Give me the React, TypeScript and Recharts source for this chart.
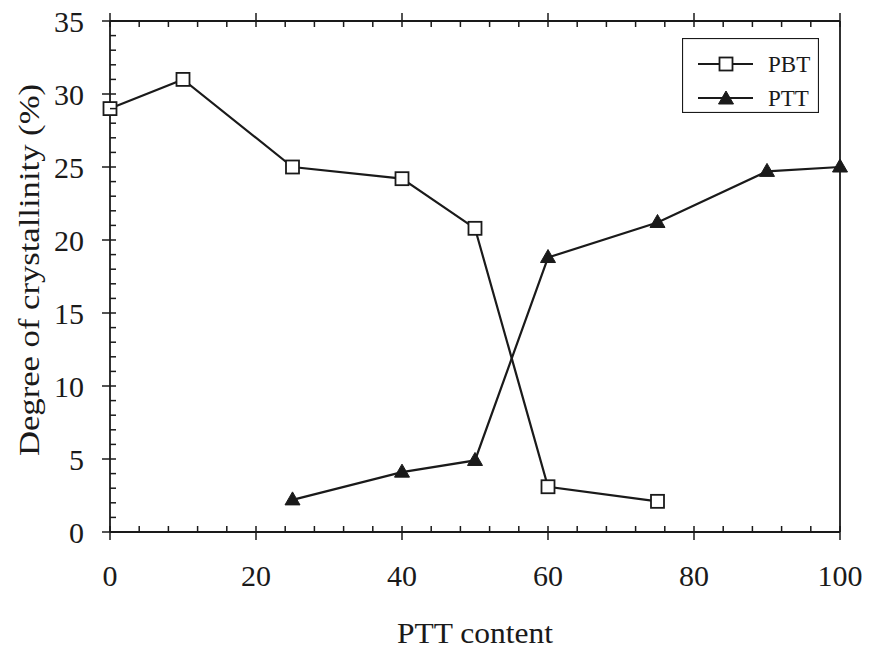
import React from 'react';
import { LineChart, Line, XAxis, YAxis } from 'recharts';

const ptt = [0, 10, 25, 40, 50, 60, 75, 90, 100];
const pbtValues = [29.0, 31.0, 25.0, 24.2, 20.8, 3.1, 2.1, null, null];
const pttValues = [null, null, 2.2, 4.1, 4.9, 18.8, 21.2, 24.7, 25.0];
const seriesNames = ['PBT', 'PTT'];

const xTicks = [0, 4, 8, 12, 16, 20, 24, 28, 32, 36, 40, 44, 48, 52, 56, 60, 64, 68, 72, 76, 80, 84, 88, 92, 96, 100];
const yTicks = [0, 1, 2, 3, 4, 5, 6, 7, 8, 9, 10, 11, 12, 13, 14, 15, 16, 17, 18, 19, 20, 21, 22, 23, 24, 25, 26, 27, 28, 29, 30, 31, 32, 33, 34, 35];

const data = ptt.map((x, i) => ({ x, pbt: pbtValues[i], ptt: pttValues[i] }));

const FONT = '"Liberation Serif", "Times New Roman", serif';
const INK = '#1a1a1a';

function Square({ cx, cy }: any) {
  if (cx == null || cy == null) return null;
  return <rect x={cx - 6.5} y={cy - 6.5} width={13} height={13} fill="#fff" stroke={INK} strokeWidth={1.8} />;
}

function Triangle({ cx, cy }: any) {
  if (cx == null || cy == null) return null;
  return <path d={`M${cx},${cy - 8} L${cx + 7.5},${cy + 5} L${cx - 7.5},${cy + 5} Z`} fill={INK} stroke={INK} />;
}

function BottomTick({ x, y, payload }: any) {
  const major = payload.value % 20 === 0;
  return (
    <g>
      <line x1={x} x2={x} y1={major ? y + 8 : y} y2={y - 6} stroke={INK} strokeWidth={1.5} />
      {major && (
        <text x={x} y={y + 54} textAnchor="middle" fontFamily={FONT} fontSize={30} fill={INK}>
          {payload.value}
        </text>
      )}
    </g>
  );
}

function TopTick({ x, y, payload }: any) {
  const major = payload.value % 20 === 0;
  return <line x1={x} x2={x} y1={major ? y - 8 : y} y2={y + 6} stroke={INK} strokeWidth={1.5} />;
}

function LeftTick({ x, y, payload }: any) {
  const major = payload.value % 5 === 0;
  return (
    <g>
      <line x1={major ? x - 8 : x} x2={x + 6} y1={y} y2={y} stroke={INK} strokeWidth={1.5} />
      {major && (
        <text x={x - 26} y={y} dy="0.36em" textAnchor="end" fontFamily={FONT} fontSize={30} fill={INK}>
          {payload.value}
        </text>
      )}
    </g>
  );
}

function RightTick({ x, y, payload }: any) {
  const major = payload.value % 5 === 0;
  return <line x1={major ? x + 8 : x} x2={x - 6} y1={y} y2={y} stroke={INK} strokeWidth={1.5} />;
}

function LegendBox() {
  return (
    <svg width={137} height={75} style={{ display: 'block' }}>
      <rect x={0.5} y={0.5} width={136} height={74} fill="#fff" stroke={INK} strokeWidth={1.2} />
      <line x1={16} x2={71} y1={26} y2={26} stroke={INK} strokeWidth={2.2} />
      <Square cx={44} cy={26} />
      <text x={86} y={26} dy="0.35em" fontFamily={FONT} fontSize={23} fill={INK}>{seriesNames[0]}</text>
      <line x1={16} x2={71} y1={60} y2={60} stroke={INK} strokeWidth={2.2} />
      <Triangle cx={44} cy={61} />
      <text x={86} y={60} dy="0.35em" fontFamily={FONT} fontSize={23} fill={INK}>{seriesNames[1]}</text>
    </svg>
  );
}

const axisLine = { stroke: INK, strokeWidth: 1.8 };

export default function App() {
  return (
    <div style={{ position: 'absolute', left: 0, top: 0, width: 873, height: 653, background: '#fff' }}>
      <LineChart width={873} height={653} data={data} margin={{ top: 20, right: 32, bottom: 120, left: 109 }}>
        <XAxis
          dataKey="x"
          type="number"
          domain={[0, 100]}
          ticks={xTicks}
          interval={0}
          height={1}
          tickSize={0}
          tickMargin={0}
          tickLine={false}
          tick={<BottomTick />}
          axisLine={axisLine}
        />
        <XAxis
          xAxisId="top"
          orientation="top"
          dataKey="x"
          type="number"
          domain={[0, 100]}
          ticks={xTicks}
          interval={0}
          height={1}
          tickSize={0}
          tickMargin={0}
          tickLine={false}
          tick={<TopTick />}
          axisLine={axisLine}
        />
        <YAxis
          type="number"
          domain={[0, 35]}
          ticks={yTicks}
          interval={0}
          width={1}
          tickSize={0}
          tickMargin={0}
          tickLine={false}
          tick={<LeftTick />}
          axisLine={axisLine}
        />
        <YAxis
          yAxisId="right"
          orientation="right"
          type="number"
          domain={[0, 35]}
          ticks={yTicks}
          interval={0}
          width={1}
          tickSize={0}
          tickMargin={0}
          tickLine={false}
          tick={<RightTick />}
          axisLine={axisLine}
        />
        <Line
          type="linear"
          dataKey="pbt"
          name={seriesNames[0]}
          stroke={INK}
          strokeWidth={2.2}
          dot={<Square />}
          activeDot={false}
          isAnimationActive={false}
        />
        <Line
          type="linear"
          dataKey="ptt"
          name={seriesNames[1]}
          stroke={INK}
          strokeWidth={2.2}
          dot={<Triangle />}
          activeDot={false}
          isAnimationActive={false}
        />
        <text
          x={475}
          y={643}
          textAnchor="middle"
          fontFamily={FONT}
          fontSize={30}
          textLength={156}
          lengthAdjust="spacingAndGlyphs"
          fill={INK}
        >
          PTT content
        </text>
        <text
          x={28}
          y={270}
          transform="rotate(-90 28 270)"
          textAnchor="middle"
          dy="0.35em"
          fontFamily={FONT}
          fontSize={30}
          textLength={372}
          lengthAdjust="spacingAndGlyphs"
          fill={INK}
        >
          Degree of crystallinity (%)
        </text>
      </LineChart>
      <div style={{ position: 'absolute', left: 682, top: 38 }}>
        <LegendBox />
      </div>
    </div>
  );
}
